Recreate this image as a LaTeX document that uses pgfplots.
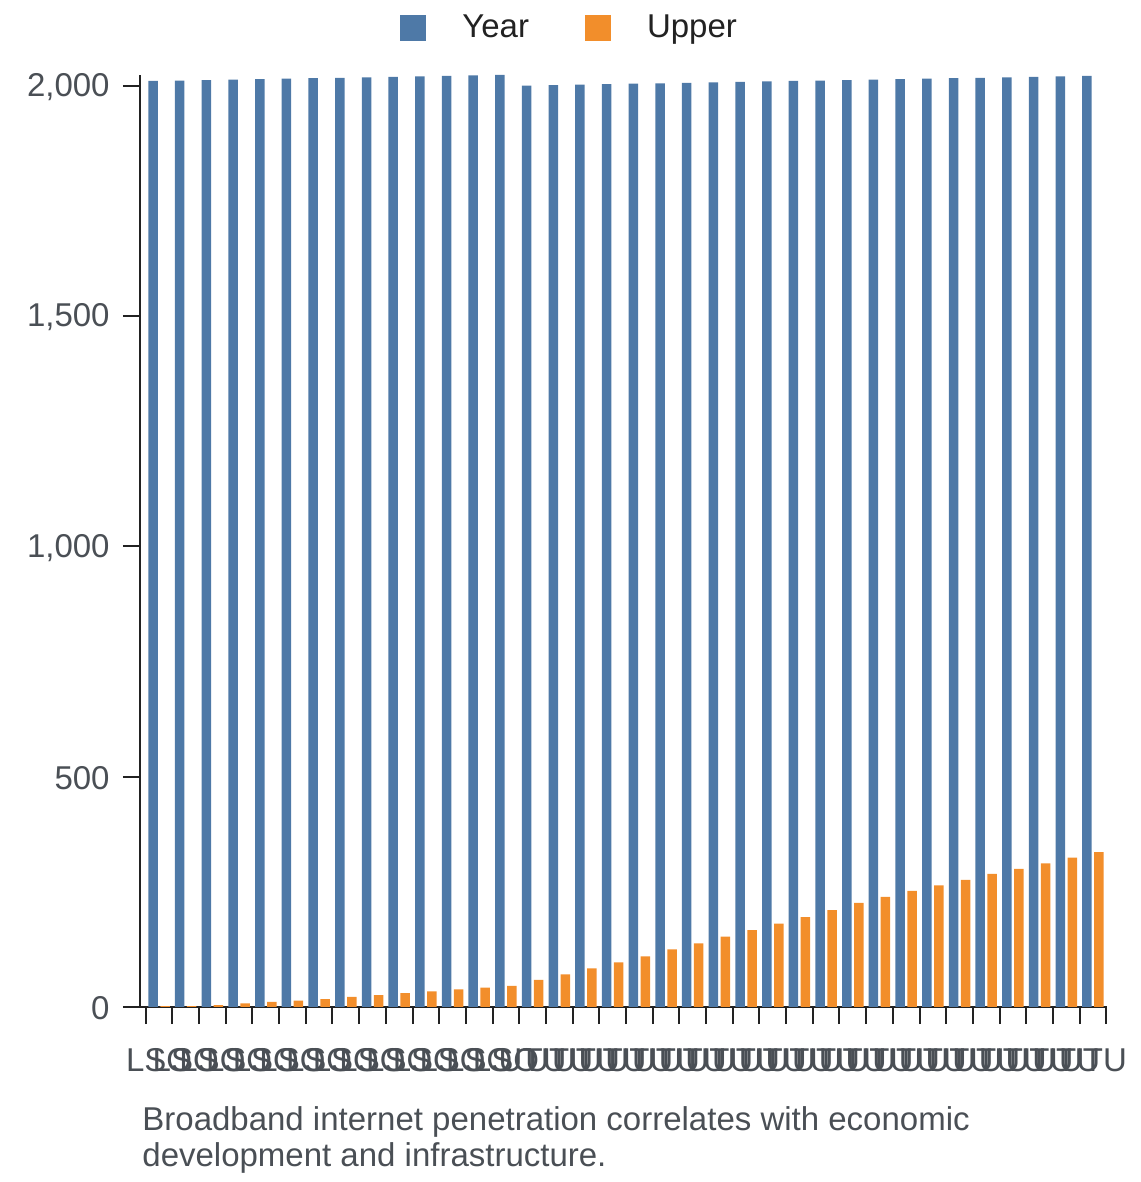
\documentclass[border=0pt]{standalone}
\usepackage{pgfplots}
\pgfplotsset{compat=1.18}
\usepackage{fontspec}
\setmainfont{Liberation Sans}
\definecolor{cblue}{HTML}{4E79A7}
\definecolor{corange}{HTML}{F28E2B}
\definecolor{txt}{HTML}{4A4F55}
\definecolor{axc}{HTML}{222222}
\begin{document}
\begin{tikzpicture}
\useasboundingbox (0,0) rectangle (570pt,591pt);
\begin{axis}[
  at={(70pt,87.5pt)}, anchor=south west,
  scale only axis, width=483.4pt, height=466pt,
  xmin=-0.714, xmax=35.52, ymin=0, ymax=2023,
  axis x line*=bottom, axis y line*=left,
  axis line style={axc, line width=1pt, -},
  ybar=1.25pt, bar width=4.75pt,
  tick align=outside,
  major tick length=8.5pt,
  tick style={axc, line width=1pt},
  xtick={-0.5,0.5,...,35.5}, xticklabels={},
  extra x ticks={0,1,...,35},
  extra x tick labels={LSO,LSO,LSO,LSO,LSO,LSO,LSO,LSO,LSO,LSO,LSO,LSO,LSO,LSO,UTU,UTU,UTU,UTU,UTU,UTU,UTU,UTU,UTU,UTU,UTU,UTU,UTU,UTU,UTU,UTU,UTU,UTU,UTU,UTU,UTU,UTU},
  extra x tick style={major tick length=0pt, xticklabel style={anchor=north, inner sep=0pt, yshift=-20.5pt}},
  ytick={0,500,1000,1500,2000},
  yticklabel style={anchor=east, inner sep=0pt, xshift=-6.5pt, yshift=-0.8pt},
  ticklabel style={font=\fontsize{16.5}{19}\selectfont, text=txt},
  /pgf/number format/assume math mode=true,
  /pgf/number format/1000 sep={,},
  legend style={at={(0.2689,1.0504)}, anchor=west, draw=none, fill=none, inner sep=0pt,
    font=\fontsize{16.5}{19}\selectfont, text=axc,
    /tikz/every odd column/.append style={column sep=16pt},
    /tikz/every even column/.append style={column sep=26pt}},
  legend columns=2,
  legend cell align=left,
  legend image code/.code={\fill[#1] (0pt,-6.5pt) rectangle (13pt,6.5pt);},
]
\addplot[fill=cblue, draw=none] coordinates {
(0,2010) (1,2011) (2,2012) (3,2013) (4,2014) (5,2015) (6,2016) (7,2017) (8,2018) (9,2019) (10,2020) (11,2021) (12,2022) (13,2023)
(14,2000) (15,2001) (16,2002) (17,2003) (18,2004) (19,2005) (20,2006) (21,2007) (22,2008) (23,2009) (24,2010) (25,2011) (26,2012) (27,2013) (28,2014) (29,2015) (30,2016) (31,2017) (32,2018) (33,2019) (34,2020) (35,2021)
};
\addplot[fill=corange, draw=none] coordinates {
(0,2) (1,2) (2,4) (3,8) (4,11) (5,14) (6,17) (7,22) (8,26) (9,30) (10,34) (11,38) (12,42) (13,46)
(14,59) (15,71) (16,84) (17,97) (18,110) (19,125) (20,138) (21,153) (22,167) (23,181) (24,195) (25,210) (26,226) (27,239) (28,252) (29,264) (30,276) (31,289) (32,300) (33,312) (34,324) (35,336)
};
\legend{Year,Upper}
\end{axis}
\node[anchor=base west, font=\fontsize{16.5}{19}\selectfont, text=txt, inner sep=0pt] at (71pt,25.5pt) {Broadband internet penetration correlates with economic};
\node[anchor=base west, font=\fontsize{16.5}{19}\selectfont, text=txt, inner sep=0pt] at (71pt,7.5pt) {development and infrastructure.};
\end{tikzpicture}
\end{document}
